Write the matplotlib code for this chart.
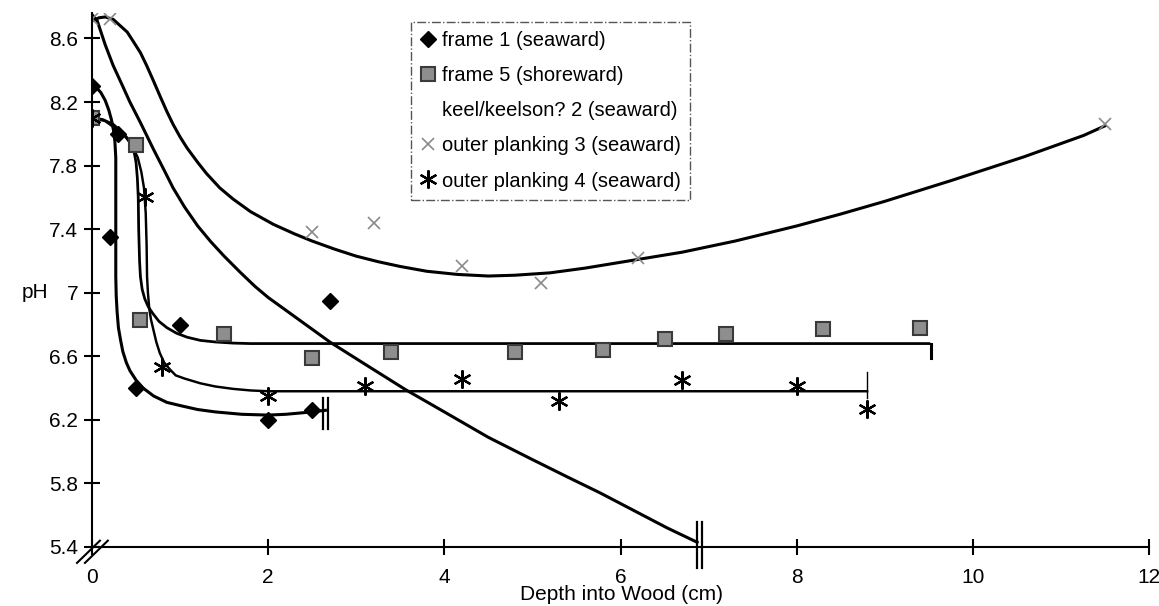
import matplotlib
matplotlib.use("Agg")
import matplotlib.pyplot as plt
from matplotlib.lines import Line2D

plt.rcParams['font.family'] = ['Liberation Sans', 'DejaVu Sans']

# ---------------- data ----------------
x_ticks = [0, 2, 4, 6, 8, 10, 12]
y_ticks = [5.4, 5.8, 6.2, 6.6, 7.0, 7.4, 7.8, 8.2, 8.6]
y_tick_labels = ["5.4", "5.8", "6.2", "6.6", "7", "7.4", "7.8", "8.2", "8.6"]

series_labels = ["frame 1 (seaward)", "frame 5 (shoreward)", "keel/keelson? 2 (seaward)",
                 "outer planking 3 (seaward)", "outer planking 4 (seaward)"]

# measured points
frame1_x = [0.0, 0.2, 0.3, 0.5, 1.0, 2.0, 2.5, 2.7]
frame1_y = [8.30, 7.35, 8.00, 6.40, 6.80, 6.20, 6.26, 6.95]

frame5_x = [0.0, 0.5, 0.55, 1.5, 2.5, 3.4, 4.8, 5.8, 6.5, 7.2, 8.3, 9.4]
frame5_y = [8.10, 7.93, 6.83, 6.74, 6.59, 6.63, 6.63, 6.64, 6.71, 6.74, 6.77, 6.78]

plank3_x = [0.0, 0.2, 2.5, 3.2, 4.2, 5.1, 6.2, 11.5]
plank3_y = [8.72, 8.72, 7.38, 7.44, 7.17, 7.06, 7.22, 8.06]

plank4_x = [0.0, 0.6, 0.8, 2.0, 3.1, 4.2, 5.3, 6.7, 8.0, 8.8]
plank4_y = [8.10, 7.60, 6.53, 6.35, 6.41, 6.46, 6.32, 6.45, 6.41, 6.27]

# hand-drawn fitted curves
frame1_fit_x = [0.0, 0.05, 0.1, 0.15, 0.19, 0.22, 0.245, 0.26, 0.27, 0.27, 0.275, 0.285, 0.3, 0.325,
                0.35, 0.39, 0.43, 0.5, 0.58, 0.7, 0.85, 1.0, 1.2, 1.4, 1.7, 2.0, 2.2, 2.4, 2.65]
frame1_fit_y = [8.30, 8.29, 8.26, 8.21, 8.15, 8.09, 8.02, 7.95, 7.85, 7.10, 6.98, 6.88, 6.78, 6.70,
                6.63, 6.56, 6.51, 6.45, 6.40, 6.35, 6.31, 6.29, 6.265, 6.25, 6.235, 6.23, 6.235, 6.245, 6.26]

frame5_fit_x = [0.0, 0.12, 0.24, 0.32, 0.39, 0.44, 0.48, 0.5, 0.515, 0.525, 0.53, 0.54, 0.55, 0.57,
                0.6, 0.64, 0.69, 0.76, 0.85, 0.96, 1.08, 1.23, 1.4, 1.6, 1.8, 9.5]
frame5_fit_y = [8.10, 8.09, 8.06, 8.02, 7.98, 7.94, 7.88, 7.82, 7.72, 7.60, 7.40, 7.20, 7.10, 7.02,
                6.96, 6.91, 6.87, 6.82, 6.78, 6.745, 6.72, 6.70, 6.69, 6.683, 6.68, 6.68]

keel_fit_x = [0.0, 0.06, 0.15, 0.24, 0.34, 0.43, 0.55, 0.7, 0.82, 0.92, 1.05, 1.2, 1.35, 1.5, 1.68,
              1.85, 2.0, 2.2, 2.45, 2.7, 3.1, 3.56, 4.0, 4.5, 5.0, 5.4, 5.77, 6.15, 6.53, 6.87]
keel_fit_y = [8.75, 8.71, 8.56, 8.43, 8.31, 8.20, 8.07, 7.90, 7.77, 7.66, 7.54, 7.42, 7.32, 7.23, 7.13,
              7.04, 6.97, 6.89, 6.79, 6.69, 6.55, 6.39, 6.25, 6.09, 5.95, 5.84, 5.74, 5.63, 5.52, 5.43]

plank3_fit_x = [0.0, 0.08, 0.15, 0.24, 0.32, 0.4, 0.47, 0.55, 0.62, 0.7, 0.77, 0.85, 0.92, 1.0, 1.08,
                1.2, 1.3, 1.45, 1.6, 1.8, 2.06, 2.3, 2.5, 2.75, 3.0, 3.25, 3.5, 3.8, 4.15, 4.5, 4.8,
                5.2, 5.6, 6.15, 6.7, 7.3, 8.0, 8.5, 9.0, 9.75, 10.58, 11.26, 11.5]
plank3_fit_y = [8.71, 8.73, 8.735, 8.72, 8.68, 8.64, 8.58, 8.51, 8.43, 8.33, 8.24, 8.14, 8.06, 7.98, 7.91,
                7.82, 7.75, 7.66, 7.59, 7.51, 7.43, 7.37, 7.325, 7.275, 7.23, 7.195, 7.165, 7.135, 7.115, 7.105, 7.11,
                7.125, 7.155, 7.205, 7.255, 7.325, 7.42, 7.495, 7.575, 7.705, 7.855, 7.99, 8.05]

plank4_fit_x = [0.0, 0.15, 0.3, 0.38, 0.45, 0.52, 0.56, 0.59, 0.61, 0.62, 0.625, 0.635, 0.65, 0.67,
                0.7, 0.73, 0.77, 0.82, 0.88, 0.95, 1.05, 1.23, 1.4, 1.6, 1.8, 2.0, 8.8]
plank4_fit_y = [8.10, 8.08, 8.02, 7.98, 7.93, 7.85, 7.76, 7.66, 7.50, 7.30, 7.10, 7.00, 6.90, 6.83,
                6.76, 6.69, 6.62, 6.56, 6.52, 6.48, 6.46, 6.43, 6.41, 6.395, 6.385, 6.38, 6.38]

# ---------------- figure ----------------
W, H = 1159, 606
fig = plt.figure(figsize=(W / 100, H / 100), dpi=100)
ax = fig.add_axes([92 / W, 59 / H, (1149 - 92) / W, (547 - 13) / H])
ax.set_xlim(0, 12)
ax.set_ylim(5.4, 8.76)

for s in ["top", "right"]:
    ax.spines[s].set_visible(False)
for s in ["left", "bottom"]:
    ax.spines[s].set_linewidth(1.5)
    ax.spines[s].set_color("black")

ax.set_xticks(x_ticks)
ax.set_xticklabels([str(v) for v in x_ticks])
ax.set_yticks(y_ticks)
ax.set_yticklabels(y_tick_labels)
ax.tick_params(axis="both", direction="inout", length=12, width=1.5, labelsize=15, colors="black")
ax.tick_params(axis="y", pad=4)
ax.tick_params(axis="x", pad=9)

lw = 2.2
ax.plot(frame1_fit_x, frame1_fit_y, color="black", lw=lw, solid_joinstyle="round")
ax.plot(frame5_fit_x, frame5_fit_y, color="black", lw=lw * 0.9, solid_joinstyle="round")
ax.plot(keel_fit_x, keel_fit_y, color="black", lw=lw, solid_joinstyle="round")
ax.plot(plank3_fit_x, plank3_fit_y, color="black", lw=lw, solid_joinstyle="round")
ax.plot(plank4_fit_x, plank4_fit_y, color="black", lw=lw * 0.8, solid_joinstyle="round")

# end marks of the fitted curves
def double_bar(xe, ye, lo, hi, gap, clip=True):
    for dx in (-gap / 2, gap / 2):
        ax.plot([xe + dx, xe + dx], [ye - lo, ye + hi], color="black", lw=1.6, clip_on=clip)

double_bar(frame1_fit_x[-1], frame1_fit_y[-1], 0.12, 0.08, 0.05)
double_bar(keel_fit_x[-1] + 0.03, keel_fit_y[-1], 0.16, 0.13, 0.06, clip=False)
ax.plot([frame5_fit_x[-1] + 0.02] * 2, [frame5_fit_y[-1], frame5_fit_y[-1] - 0.09], color="black", lw=2.2)
ax.plot([plank4_fit_x[-1]] * 2, [plank4_fit_y[-1] - 0.04, plank4_fit_y[-1] + 0.12], color="black", lw=1.0)

# markers
m1, = ax.plot(frame1_x, frame1_y, linestyle="none", marker="D", ms=8, color="black")
m5, = ax.plot(frame5_x, frame5_y, linestyle="none", marker="s", ms=9.5,
              markerfacecolor="#8e8e8e", markeredgecolor="#3a3a3a", markeredgewidth=1.5)
m3, = ax.plot(plank3_x, plank3_y, linestyle="none", marker="x", ms=8,
              color="#8a8a8a", markeredgewidth=1.2)
m4, = ax.plot(plank4_x, plank4_y, linestyle="none", marker=(6, 2, 0), ms=13,
              color="black", markeredgewidth=1.6)
mk = Line2D([], [], linestyle="none", marker=None)

# axis break at the origin
ax.plot([-0.17, 0.09], [5.30, 5.44], color="black", lw=1.5, clip_on=False)
ax.plot([-0.08, 0.18], [5.30, 5.44], color="black", lw=1.5, clip_on=False)

# labels
fig.text(35 / W, 1 - 292 / H, "pH", fontsize=15, ha="center", va="center")
fig.text(621 / W, 1 - 594 / H, "Depth into Wood (cm)", fontsize=15, ha="center", va="center")

leg = ax.legend([m1, m5, mk, m3, m4], series_labels,
                loc="upper left", bbox_to_anchor=(411 / W, 1 - 22 / H),
                bbox_transform=fig.transFigure, borderaxespad=0,
                fontsize=14.5, frameon=True, fancybox=False, framealpha=1,
                handlelength=0.8, handletextpad=0.3, labelspacing=0.8,
                borderpad=0.45, numpoints=1)
fr = leg.get_frame()
fr.set_edgecolor("#555555")
fr.set_linewidth(1.0)
fr.set_linestyle("-.")

fig.savefig("out.png", dpi=100, facecolor="white")
